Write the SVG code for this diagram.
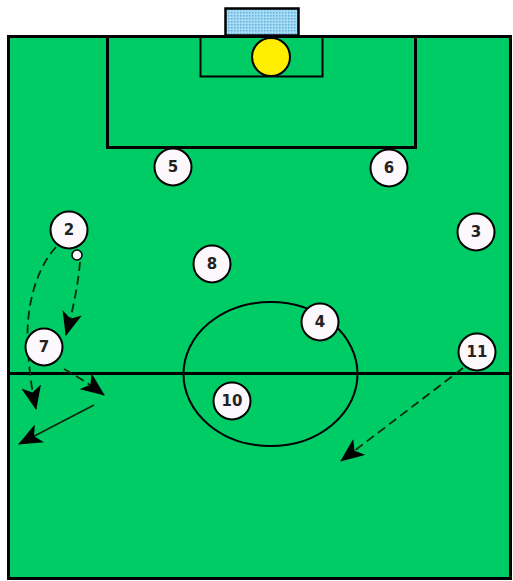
<svg xmlns="http://www.w3.org/2000/svg" width="513" height="581" viewBox="0 0 513 581">
<defs>
<pattern id="net" width="3" height="3" patternUnits="userSpaceOnUse">
<rect width="3" height="3" fill="#a8dcf5"/>
<rect width="1.5" height="1.5" fill="#5fb0e0"/>
</pattern>
<marker id="ah" viewBox="0 0 24 20" refX="23" refY="10" markerWidth="24" markerHeight="20" markerUnits="userSpaceOnUse" orient="auto">
<path d="M0,0 L24,10 L0,20 L6,10 Z" fill="#000"/>
</marker>
<style>
.line{fill:none;stroke:#000;stroke-width:3}
.thin{fill:none;stroke:#000;stroke-width:2}
.pl circle{fill:#fdf8fb;stroke:#000;stroke-width:2}
.pl text{font-family:"DejaVu Sans",Verdana,sans-serif;font-weight:bold;font-size:15px;fill:#222;text-anchor:middle;dominant-baseline:central}
.run{fill:none;stroke:#0a2a10;stroke-width:1.8;stroke-dasharray:9,5;marker-end:url(#ah)}
.pass{fill:none;stroke:#0a2a10;stroke-width:1.8;marker-end:url(#ah)}
</style>
</defs>
<rect width="513" height="581" fill="#fff"/>
<g id="pitch">
<rect x="8.5" y="36.5" width="502" height="542" fill="#00cc66" stroke="#000" stroke-width="3"/>
<rect id="goal" x="225.5" y="8.5" width="73" height="27" fill="url(#net)" stroke="#000" stroke-width="2.5"/>
<rect x="107.5" y="36.5" width="308" height="111" class="line"/>
<rect x="200.5" y="36.5" width="122" height="40" class="thin"/>
<line x1="8" y1="373.5" x2="511" y2="373.5" class="line"/>
<ellipse cx="270.5" cy="374" rx="87" ry="72" class="thin"/>
<circle id="ball" cx="271" cy="57" r="19" fill="#ffee00" stroke="#000" stroke-width="2"/>
</g>
<g id="connectors">
<path class="run" d="M56,247 C35,270 25,310 28,350 C30,380 33,395 36,409"/>
<path class="run" d="M80,262 C78,285 73,310 66,335"/>
<path class="run" d="M64,369 C75,375 88,383 104,395"/>
<path class="pass" d="M94,405 L19,444"/>
<path class="run" d="M463,368 L341,461"/>
</g>
<g id="p5" class="pl"><circle cx="173" cy="167" r="18.5"/><text x="173" y="167">5</text></g>
<g id="p6" class="pl"><circle cx="389" cy="168" r="18.5"/><text x="389" y="168">6</text></g>
<g id="p2" class="pl"><circle cx="69" cy="230" r="18.5"/><text x="69" y="230">2</text></g>
<circle id="smallball" cx="77" cy="255" r="5" fill="#fdf8fb" stroke="#000" stroke-width="1.5"/>
<g id="p3" class="pl"><circle cx="476" cy="232" r="18.5"/><text x="476" y="232">3</text></g>
<g id="p8" class="pl"><circle cx="212" cy="264" r="18.5"/><text x="212" y="264">8</text></g>
<g id="p4" class="pl"><circle cx="320" cy="322" r="18.5"/><text x="320" y="322">4</text></g>
<g id="p7" class="pl"><circle cx="44" cy="347" r="18.5"/><text x="44" y="347">7</text></g>
<g id="p11" class="pl"><circle cx="477" cy="352" r="18.5"/><text x="477" y="352">11</text></g>
<g id="p10" class="pl"><circle cx="232" cy="401" r="18.5"/><text x="232" y="401">10</text></g>
</svg>
